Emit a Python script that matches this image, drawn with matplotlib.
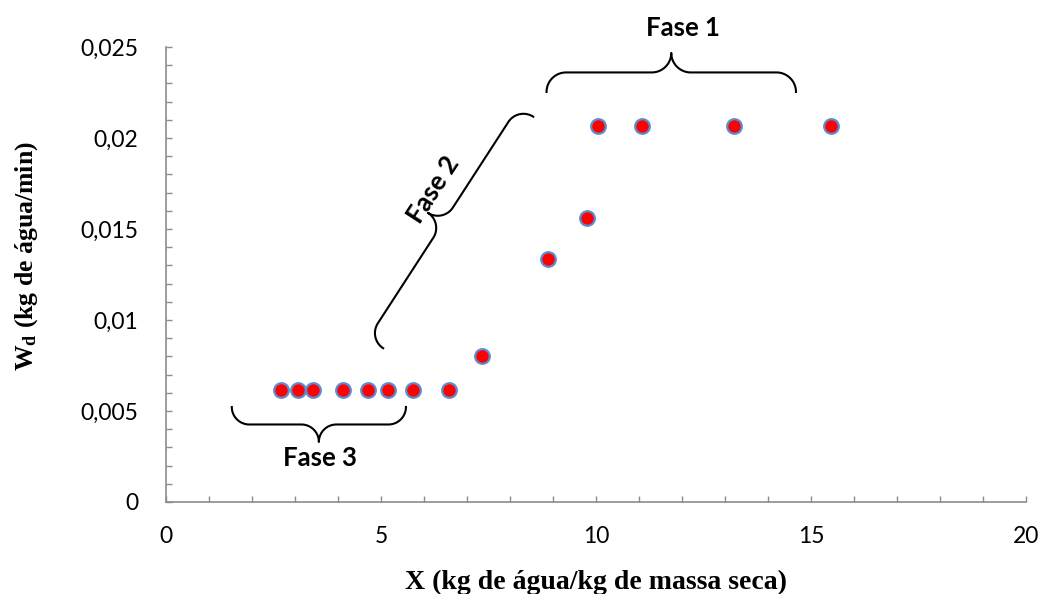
import numpy as np
import matplotlib
matplotlib.use("Agg")
import matplotlib.pyplot as plt
from matplotlib.ticker import MultipleLocator, FuncFormatter
from matplotlib.transforms import IdentityTransform

# dados
x_umidade = [2.67, 3.08, 3.42, 4.12, 4.70, 5.16, 5.75, 6.58,
             7.36, 8.88, 9.78, 10.04, 11.06, 13.21, 15.46]
w_taxa = [0.00615, 0.00615, 0.00615, 0.00615, 0.00615, 0.00615, 0.00615, 0.00615,
          0.0080, 0.01335, 0.01559, 0.02066, 0.02066, 0.02066, 0.02066]

fases = ["Fase 1", "Fase 2", "Fase 3"]

plt.rcParams["mathtext.fontset"] = "custom"
plt.rcParams["mathtext.rm"] = "Liberation Serif:bold"

cor_eixo = "#8c8c8c"

fig = plt.figure(figsize=(10.46, 5.94), dpi=100)
ax = fig.add_axes([0.1587, 0.1549, 0.8222, 0.766])

ax.plot(x_umidade, w_taxa, "o", ms=10.5, mfc="#ff0000", mec="#5b8bd0", mew=1.6,
        ls="none", zorder=3)

ax.set_xlim(0, 20)
ax.set_ylim(0, 0.025)
ax.xaxis.set_major_locator(MultipleLocator(5))
ax.xaxis.set_minor_locator(MultipleLocator(1))
ax.yaxis.set_major_locator(MultipleLocator(0.005))
ax.yaxis.set_minor_locator(MultipleLocator(0.001))
virgula = FuncFormatter(lambda v, p: "{:g}".format(round(v, 4)).replace(".", ","))
ax.yaxis.set_major_formatter(virgula)

for lado in ["top", "right"]:
    ax.spines[lado].set_visible(False)
for lado in ["left", "bottom"]:
    ax.spines[lado].set_color(cor_eixo)
    ax.spines[lado].set_linewidth(1.2)

ax.tick_params(which="both", direction="in", color=cor_eixo, width=1.0,
               labelsize=16.5, labelcolor="black")
ax.tick_params(which="both", length=4.5)
ax.tick_params(axis="y", pad=20)
ax.tick_params(axis="x", pad=17)
for lab in ax.get_xticklabels() + ax.get_yticklabels():
    lab.set_family("Lato")

xl = ax.set_xlabel("X (kg de água/kg de massa seca)", family="Liberation Serif",
                   fontweight="bold", fontsize=20)
yl = ax.set_ylabel(r"$\mathrm{W_d}$ (kg de água/min)", family="Liberation Serif",
                   fontweight="bold", fontsize=18.5)
xl.set_va("center")
yl.set_va("center")
ax.xaxis.set_label_coords(0.5, -0.176)
ax.yaxis.set_label_coords(-0.1616, 0.54)


def chave(p0, p1, prof):
    # chave "{" entre dois pontos (dados), bico para a esquerda do sentido p0->p1
    a = ax.transData.transform(p0)
    b = ax.transData.transform(p1)
    d = b - a
    L = np.hypot(*d)
    u = d / L
    n = np.array([-u[1], u[0]])
    r = prof / 2.0
    t1 = np.linspace(np.pi, np.pi / 2, 30)
    arco1 = np.column_stack([r + r * np.cos(t1), r * np.sin(t1)])
    t2 = np.linspace(-np.pi / 2, 0, 30)
    arco2 = np.column_stack([L / 2 - r + r * np.cos(t2), 2 * r + r * np.sin(t2)])
    meia = np.vstack([arco1, arco2])
    outra = meia[::-1].copy()
    outra[:, 0] = L - outra[:, 0]
    loc = np.vstack([meia, outra])
    pts = a + loc[:, :1] * u + loc[:, 1:] * n
    ax.plot(pts[:, 0], pts[:, 1], color="black", lw=1.5,
            transform=IdentityTransform(), clip_on=False)


chave((8.85, 0.02253), (14.65, 0.02253), 39)
chave((5.05, 0.00845), (8.54, 0.02117), 36)
chave((5.58, 0.00522), (1.53, 0.00522), 35)

estilo = dict(family="Lato", fontweight="bold", fontsize=18.5, ha="center",
              va="center", clip_on=False)
ax.text(12.02, 0.02604, fases[0], **estilo)
ax.text(6.21, 0.01714, fases[1], rotation=57, rotation_mode="anchor", **estilo)
ax.text(3.58, 0.00242, fases[2], **estilo)

fig.savefig("out.png", dpi=100)
